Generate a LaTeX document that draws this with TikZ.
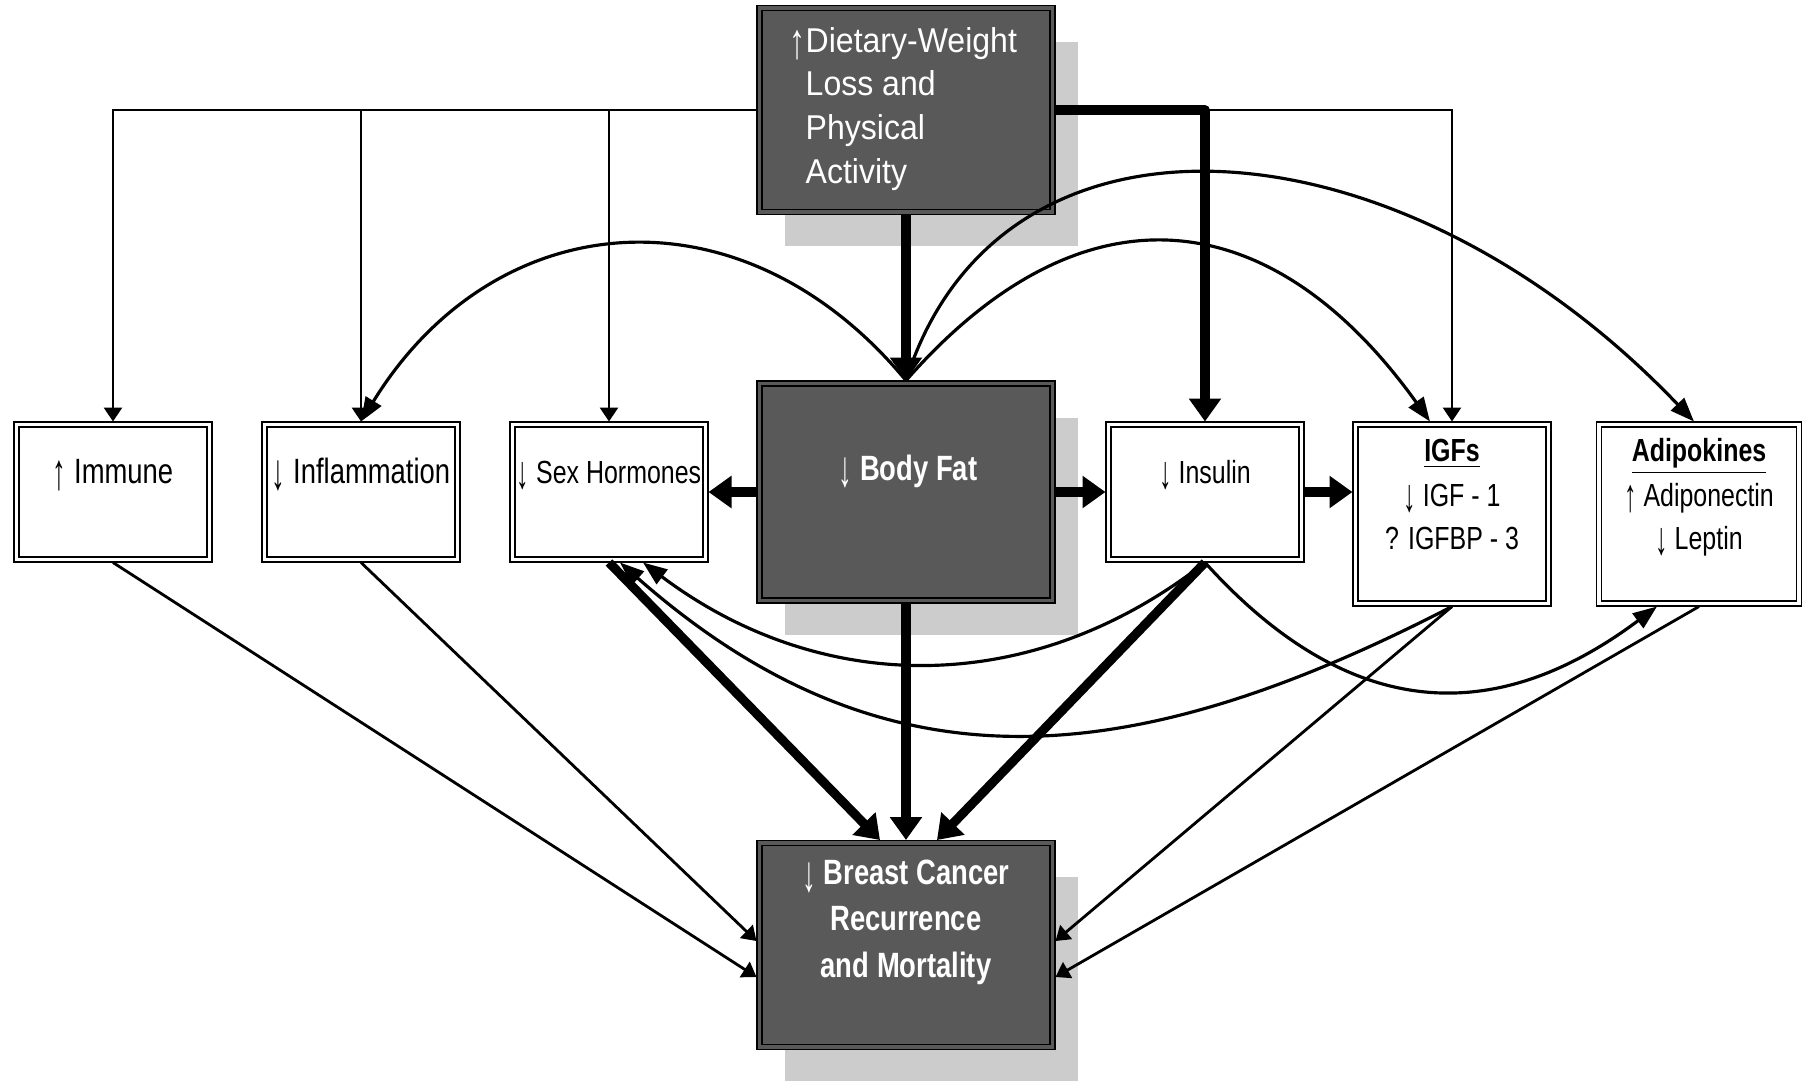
\documentclass[tikz,border=0pt]{standalone}
\usepackage{graphicx}
\usepackage{fontspec}
\setmainfont{Liberation Sans}
\newfontfamily\narrowfont{Liberation Sans}[FakeStretch=0.78]
\newfontfamily\topfont{Liberation Sans}[FakeStretch=0.93]
\usetikzlibrary{positioning, arrows.meta, calc, shadows}
\definecolor{boxgray}{HTML}{595959}
\definecolor{shadowgray}{HTML}{CCCCCC}
% tall thin arrows as in the figure
\newcommand{\arrup}{\raisebox{-0.18em}{\scalebox{1}[1.45]{\mdseries ↑}}}
\newcommand{\arrdn}{\raisebox{-0.18em}{\scalebox{1}[1.45]{\mdseries ↓}}}
\tikzset{
  darkbox/.style={draw=black, line width=0.5pt, double=boxgray, double distance=0.9pt, fill=boxgray, minimum width=29.3mm, outer sep=0.3mm, drop shadow={shadow xshift=2.5mm, shadow yshift=-3.4mm, fill=shadowgray, opacity=1}},
  whitebox/.style={draw=black, line width=0.45pt, double=white, double distance=0.9pt, fill=white, minimum width=19.3mm, minimum height=13.5mm, outer sep=0.3mm},
  tallbox/.style={whitebox, minimum height=17.9mm},
  toptext/.style={text=white, font=\topfont\fontsize{9.8}{12.4}\selectfont, align=left, inner sep=0pt},
  darktext/.style={text=white, font=\narrowfont\bfseries\fontsize{10}{13.1}\selectfont, align=center, inner sep=0pt},
  bigtext/.style={font=\narrowfont\fontsize{10}{12}\selectfont, align=center, inner sep=0pt},
  smalltext/.style={font=\narrowfont\fontsize{9.1}{12.2}\selectfont, align=center, inner sep=0pt},
  plainarrow/.style={-{Triangle[length=1.4mm, width=1.8mm]}, line width=0.8pt},
  heavyarrow/.style={-{Triangle[length=2.3mm, width=3.1mm]}, line width=2.6pt, line join=round},
  curvearrow/.style={-{Triangle[length=2.4mm, width=1.8mm]}, line width=0.9pt},
}

\begin{document}
\begin{tikzpicture}[x=0.1mm, y=-0.1mm]
  \useasboundingbox (0,0) rectangle (1804,1083);

  % The three dark boxes down the middle
  \node[darkbox, minimum height=20.4mm] (diet) at (906,110) {};
  \node[darkbox, minimum height=21.7mm] (bodyfat) at (906,492) {};
  \node[darkbox, minimum height=20.4mm] (bc) at (906,945) {};

  % Mediators in one row
  \node[whitebox] (immune) at (113,492) {};
  \node[whitebox] (inflam) at (361,492) {};
  \node[whitebox] (sexh) at (609,492) {};
  \node[whitebox] (insulin) at (1205,492) {};
  \node[tallbox] (igf) at (1452,514) {};
  \node[tallbox, minimum width=20mm] (adipo) at (1699,514) {};

  % Box texts (base = last line)
  \node[toptext, anchor=base west] (diet-t) at (805,183)
    {\llap{\arrup}Dietary-Weight\\Loss and\\Physical\\Activity};
  \node[darktext, anchor=base] (bodyfat-t) at (908,480) {\arrdn\ Body Fat};
  \node[darktext, anchor=base] (bc-t) at (906,977)
    {\arrdn\ Breast Cancer\\Recurrence\\and Mortality};
  \node[bigtext, anchor=base] (immune-t) at (113,483) {\arrup\ Immune};
  \node[bigtext, anchor=base] (inflam-t) at (361,483) {\arrdn\ Inflammation};
  \node[smalltext, anchor=base] (sexh-t) at (609,483) {\arrdn\ Sex Hormones};
  \node[smalltext, anchor=base] (insulin-t) at (1205,483) {\arrdn\ Insulin};
  \node[smalltext, anchor=base] (igf-t) at (1452,549)
    {\underline{\textbf{IGFs}}\\[0.6pt]\arrdn\ IGF - 1\\? IGFBP - 3};
  \node[smalltext, anchor=base] (adipo-t) at (1699,549)
    {\underline{\textbf{Adipokines}}\\[0.6pt]\arrup\ Adiponectin\\\arrdn\ Leptin};

  % Lines out of the top box
  \draw[plainarrow] (diet.west) -| (immune.north);
  \draw[plainarrow] (diet.west) -| (inflam.north);
  \draw[plainarrow] (diet.west) -| (sexh.north);
  \draw[plainarrow] (diet.east) -| (igf.north);
  \draw[heavyarrow] (diet.east) -| (insulin.north);
  \draw[heavyarrow] (diet.south) -- (bodyfat.north);

  % Body fat to its neighbours
  \draw[heavyarrow] (bodyfat.west) -- (sexh.east);
  \draw[heavyarrow] (bodyfat.east) -- (insulin.west);
  \draw[heavyarrow] (insulin.east) -- (insulin.east -| igf.west);

  % Arcs over the top
  \draw[curvearrow] (bodyfat.north) .. controls +(-164,-198) and +(134,-218) .. (inflam.north);
  \draw[curvearrow] (bodyfat.north) .. controls +(178,-203) and +(-157,-219) .. ($(igf.north)+(-22,0)$);
  \draw[curvearrow] (bodyfat.north) .. controls +(94,-298) and +(-294,-308) .. ($(adipo.north)+(-5,0)$);

  % Arcs underneath
  \draw[curvearrow] (insulin.south) .. controls +(-175,137) and +(177,133) .. ($(sexh.south)+(34,0)$);
  \draw[curvearrow] (igf.south) .. controls +(-318,164) and +(268,236) .. ($(sexh.south)+(11,0)$);
  \draw[curvearrow] (insulin.south) .. controls +(140,155) and +(-167,125) .. ($(adipo.south)+(-42,0)$);

  % Everything into the outcome box
  \draw[heavyarrow] (bodyfat.south) -- (bc.north);
  \draw[heavyarrow] (sexh.south) -- ($(bc.north)+(-26,0)$);
  \draw[heavyarrow] (insulin.south) -- ($(bc.north)+(31,0)$);
  \draw[plainarrow] (immune.south) -- ($(bc.west)+(0,32)$);
  \draw[plainarrow] (inflam.south) -- ($(bc.west)+(0,-4)$);
  \draw[plainarrow] (igf.south) -- ($(bc.east)+(0,-4)$);
  \draw[plainarrow] (adipo.south) -- ($(bc.east)+(0,32)$);
\end{tikzpicture}
\end{document}
